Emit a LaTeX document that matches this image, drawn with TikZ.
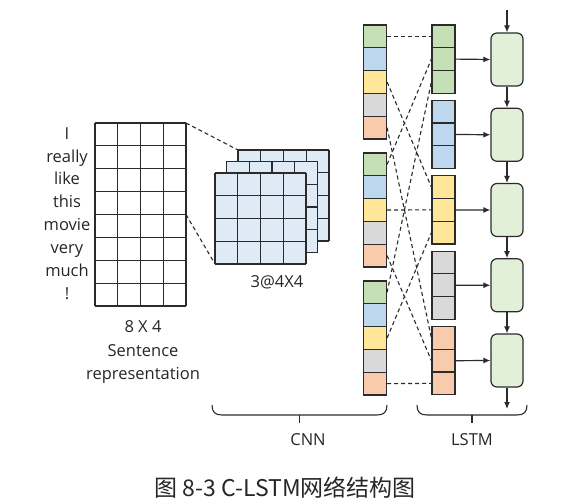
\documentclass[tikz,border=0pt]{standalone}
\usepackage{fontspec}
\setmainfont{Open Sans}
\newfontfamily\cjk{Noto Sans CJK SC}
\usetikzlibrary{arrows.meta}
\definecolor{cnngreen}{HTML}{C5E0B4}
\definecolor{cnnblue}{HTML}{BDD7EE}
\definecolor{cnnyellow}{HTML}{FFE699}
\definecolor{cnngrey}{HTML}{D9D9D9}
\definecolor{cnnorange}{HTML}{F8CBAD}
\definecolor{mapblue}{HTML}{DEEBF7}
\definecolor{lstmgreen}{HTML}{E2F0D9}
\definecolor{rand}{HTML}{2B2B2B}
\tikzset{
  cell/.style={draw=rand,line width=1.2pt,minimum width=23pt,minimum height=22.8pt,inner sep=0pt},
  lstmcell/.style={draw=rand,line width=1.2pt,fill=lstmgreen,rounded corners=6pt,minimum width=32pt,minimum height=53pt,inner sep=0pt},
  gridline/.style={draw=rand,line width=1.2pt},
  verbind/.style={rand,line width=1.1pt,dash pattern=on 4pt off 3pt},
  pijl/.style={rand,line width=1.2pt,-{Latex[length=7pt,width=6pt]}},
  klamp/.style={rand,line width=1.1pt},
  woord/.style={font=\fontsize{16.5}{19}\selectfont,inner sep=0pt,text height=11.5pt,text depth=2pt,text=black!85}
}
\begin{document}
\begin{tikzpicture}[x=1pt,y=-1pt]
  \useasboundingbox (0,0) rectangle (571,500);
  % zinsmatrix 8 x 4
  \foreach \i in {0,...,8} \draw[gridline] (95,123+22.875*\i) -- (186,123+22.875*\i);
  \foreach \j in {0,...,4} \draw[gridline] (95+22.75*\j,123) -- (95+22.75*\j,306);
  \foreach \w [count=\i] in {I,really,like,this,movie,very,much,!}
    \node[woord] (w-\i) at (67,134.4+22.875*\i-22.875) {\w};
  \node[woord] (dim) at (143,328) {8 X 4};
  \node[woord] (sent) at (143,352) {Sentence};
  \node[woord] (repr) at (143,375) {representation};
  % feature maps 3@4x4
  \foreach \d in {23,11.5,0} {
    \begin{scope}[shift={(215+\d,173-\d)}]
      \fill[mapblue] (0,0) rectangle (91,91);
      \foreach \k in {0,...,4} {
        \draw[gridline] (0,22.75*\k) -- (91,22.75*\k);
        \draw[gridline] (22.75*\k,0) -- (22.75*\k,91);
      }
    \end{scope}
  }
  \coordinate (zin-o) at (186,123);
  \coordinate (zin-m) at (186,214.5);
  \coordinate (map-o) at (238,150);
  \coordinate (map-m) at (215,264);
  \draw[verbind] (zin-o) -- (map-o);
  \draw[verbind] (zin-m) -- (map-m);
  \node[woord] (maps) at (277,283) {3@4X4};
  % CNN kolom
  \foreach \g in {1,2,3}
    \foreach \kl [count=\k] in {cnngreen,cnnblue,cnnyellow,cnngrey,cnnorange}
      \node[cell,fill=\kl] (c-\g-\k) at (375,{25+128*(\g-1)+11.4+22.8*(\k-1)}) {};
  % LSTM invoer
  \foreach \kl [count=\k] in {cnngreen,cnnblue,cnnyellow,cnngrey,cnnorange}
    \foreach \g in {1,2,3}
      \node[cell,fill=\kl] (l-\k-\g) at (443.5,{25+75.4*(\k-1)+11.4+22.7*(\g-1)}) {};
  \foreach \k in {1,3,5}
    \foreach \g in {1,2,3}
      \draw[verbind] (c-\g-\k.east) -- (l-\k-\g.west);
  % LSTM cellen
  \foreach \i in {1,...,5}
    \node[lstmcell] (h-\i) at (507,{59.5+75.25*(\i-1)}) {};
  \coordinate (in) at (507,10);
  \coordinate (uit) at (507,409);
  \draw[pijl] (in) -- (h-1.north);
  \foreach \i [evaluate=\i as \n using int(\i+1)] in {1,...,4}
    \draw[pijl] (h-\i.south) -- (h-\n.north);
  \draw[pijl] (h-5.south) -- (uit);
  \foreach \i in {1,...,5}
    \draw[pijl] (l-\i-2.east) -- (h-\i.west);
  % accolades
  \draw[klamp] (212,405) .. controls (212,412) and (215,415) .. (222,415) -- (377,415) .. controls (384,415) and (387,412) .. (387,405);
  \draw[klamp] (299.5,415) -- (299.5,423);
  \draw[klamp] (417,405) .. controls (417,412) and (420,415) .. (427,415) -- (517,415) .. controls (524,415) and (527,412) .. (527,405);
  \draw[klamp] (472,415) -- (472,423);
  \node[woord] (cnn) at (308,441) {CNN};
  \node[woord] (lstm) at (472,441) {LSTM};
  \node[inner sep=0pt,font=\cjk\fontsize{23}{25}\selectfont,text=black!85] (titel) at (285,488) {图 8-3 C-LSTM网络结构图};
\end{tikzpicture}
\end{document}
